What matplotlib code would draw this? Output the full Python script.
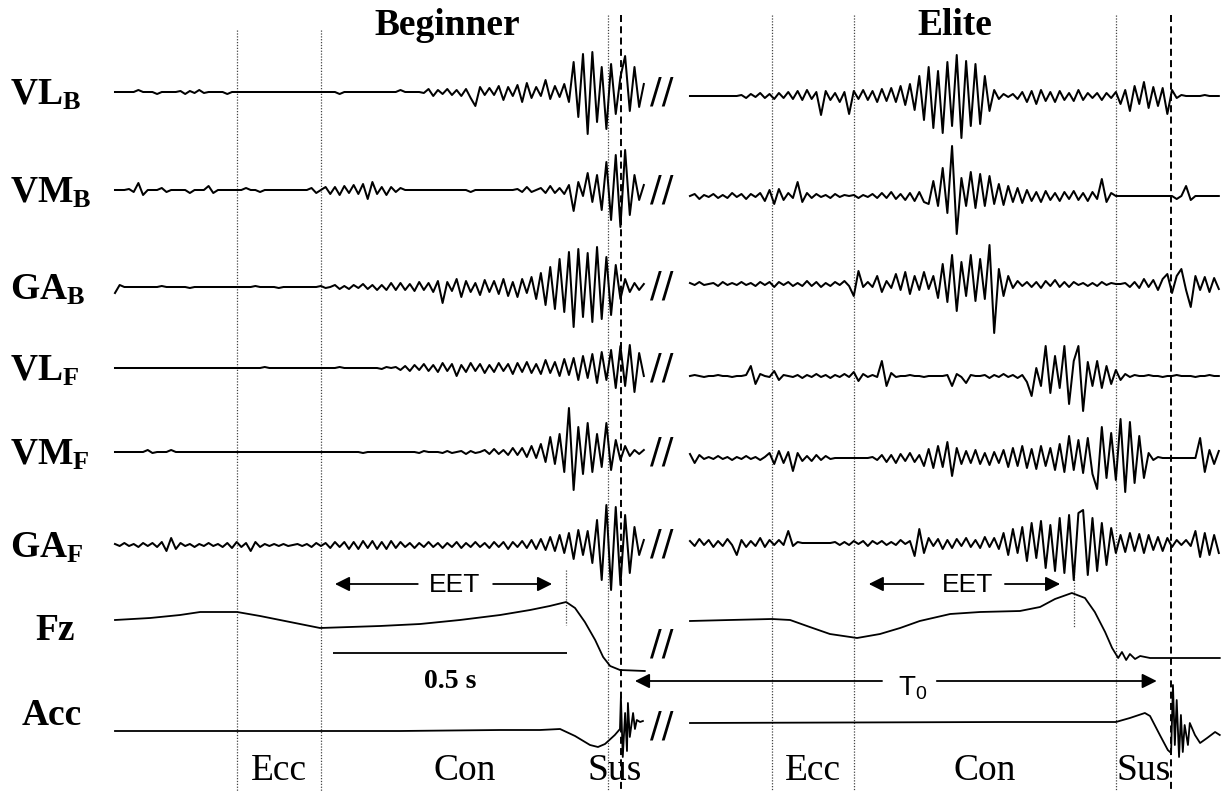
import numpy as np
import matplotlib.pyplot as plt

plt.rcParams['mathtext.fontset'] = 'custom'
plt.rcParams['mathtext.rm'] = 'Liberation Serif'
plt.rcParams['mathtext.bf'] = 'Liberation Serif:bold'
plt.rcParams['mathtext.sf'] = 'Liberation Sans'

# time axis: seconds, both panels share one axis, Elite panel shifted right
DT = 0.01
RIGHT_START = 1.2286
T_MIN, T_MAX = -0.2457, 2.3718

# ---- EMG traces (amplitude, arbitrary units, positive = up) ----
# Beginner
beg_vl_b = [0, 0, 0, 0, 0, 2, 0, 0, 0, -2, 0, 0, 0, 0, 1, -2, 1, -1, 2, -1,
            0, 0, 0, 0, -2, 0, 0, 0, 0, 0, 0, 0, 0, 0, 0, 0, 0, 0, 0, 0,
            0, 0, 0, 0, 0, 0, 0, 0, -2, 0, 0, 0, 0, 0, 0, 0, 0, 0, 0, 0,
            0, 2, 0, 0, 0, 0, -1, 3, -4, 2, -2, 3, -3, 2, -4, 3, -6, -14, 5, -3,
            4, -3, 6, -8, 5, -4, 7, -10, 9, -6, 5, -4, 12, -7, 6, -5, 8, -10, 30, -25,
            38, -42, 40, -30, 25, -37, 28, -22, 15, 36, -19, 25, -15, 8]
beg_vm_b = [0, 0, 0, 1, -2, 7, -5, 0, 0, 0, 2, -2, 0, 0, 0, 0, -3, 0, 0, 0,
            4, -3, 0, 0, 0, 0, 0, 0, 2, 0, 0, -2, 0, 0, 0, 0, 0, 0, 0, 0,
            0, 0, 2, -3, 0, 3, -4, 3, -5, 4, -3, 5, -4, 6, -9, 8, -4, 3, -5, 3,
            -2, 2, 0, 0, 0, 0, 0, 0, 0, 0, 0, 0, 0, 0, 0, 0, -2, 0, 0, 0,
            0, 0, 0, 0, 0, 0, 1, -2, 3, -2, 0, 2, -3, 4, -3, 2, -4, 5, -21, 8,
            -6, 17, -12, 15, -20, 28, -30, 35, -37, 40, -25, 15, -10, 5]
beg_ga_b = [-6, 2, 0, 0, 0, 0, 0, 0, 0, 0, 1, 0, 0, 0, 0, 0, -1, 0, 0, 0,
            0, 0, 0, 0, 0, 0, 0, 0, 0, 0, 1, 0, 0, 0, 0, -1, 0, 0, 0, 0,
            0, 0, 0, 0, 1, -1, 0, 2, -2, 1, -2, 2, -1, 3, -2, 2, -3, 2, -3, 4,
            -3, 4, -3, 3, -4, 5, -3, 4, -5, 6, -16, 5, -4, 8, -10, 6, -5, 4, -8, 7,
            -5, 6, -7, 8, -9, 5, -10, 8, -6, 10, -12, 14, -18, 20, -22, 28, -25, 35, -40, 38,
            -30, 34, -35, 40, -32, 30, -28, 22, -12, 8, -5, 4, -3, 3]
beg_vl_f = [0, 0, 0, 0, 0, 0, 0, 0, 0, 0, 0, 0, 0, 0, 0, 0, 0, 0, 0, 0,
            0, 0, 0, 0, 0, 0, 0, 0, 0, 0, 0, 0, 1, 0, 0, 0, 0, 0, 0, 0,
            0, 0, 0, 0, 0, 0, 0, 0, 1, 0, 0, 0, 0, 0, 0, 0, 0, -1, 1, 0,
            1, -2, 2, -3, 3, -2, 4, -3, 3, -4, 5, -3, 4, -8, 3, -4, 5, -3, 4, -5,
            3, -4, 5, -3, 4, -6, 5, -4, 6, -5, 4, -6, 8, -5, 6, -8, 9, -7, 10, -12,
            12, -10, 14, -15, 16, -12, 18, -20, 22, -18, 23, -24, 15, -8]
beg_vm_f = [0, 0, 0, 0, 0, 0, 0, 2, -1, 0, 0, 0, 2, 0, 0, 0, 0, 0, 0, 0,
            0, 0, 0, 0, 0, 0, 0, 0, 0, 0, 0, 0, 0, 0, 0, 0, 0, 0, 0, 0,
            0, 0, 0, 0, 0, 0, 0, 0, 0, 0, 0, 0, 0, -1, 0, 0, 0, 0, 0, 0,
            0, 0, 0, 0, 0, -1, 1, 0, 0, 0, -1, 1, -1, 0, 1, -2, 1, -1, 0, 2,
            -2, 3, -2, 2, -3, 4, -3, 4, -5, 6, -6, 8, -10, 15, -12, 18, -20, 44, -38, 25,
            -22, 29, -20, 18, -15, 29, -18, 12, -8, 6, -4, 2, -2, 2]
beg_ga_f = [1, -1, 2, -1, 1, -2, 2, -1, 2, -2, 3, -6, 7, -4, 2, -1, 1, -2, 1, -1,
            2, -1, 1, -2, 2, -3, 3, -2, 2, -6, 3, -2, 1, -1, 1, -1, 1, -1, 0, 1,
            -1, 1, -2, 2, -1, 2, -3, 3, -2, 3, -4, 3, -4, 4, -3, 4, -4, 3, -4, 4,
            -3, 3, -2, 2, -3, 2, -2, 3, -2, 2, -3, 2, -2, 3, -3, 2, -2, 3, -2, 2,
            -3, 3, -2, 3, -4, 3, -2, 4, -3, 5, -4, 6, -5, 8, -6, 10, -8, 12, -14, 15,
            -10, 14, -18, 25, -35, 40, -45, 38, -40, 30, -28, 18, -10, 5]
# Elite
eli_vl_b = [0, 0, 0, 0, 0, 0, 0, 0, 0, 0, 0, 1, -2, 2, -1, 3, -2, 2, -3, 3,
            -2, 4, -3, 5, -4, 6, -3, 4, -19, 5, -4, 3, -6, 4, -18, 5, -3, 6, -4, 5,
            -6, 7, -5, 8, -6, 10, -9, 12, -14, 20, -24, 29, -32, 25, -37, 34, -30, 41, -42, 35,
            -30, 32, -28, 20, -15, 6, -3, 2, -1, 2, -3, 4, -6, 5, -8, 6, -5, 4, -6, 5,
            -4, 3, -5, 6, -4, 3, -2, 3, -4, 3, -2, 4, -8, 6, -15, 10, -8, 14, -12, 9,
            -10, 8, -18, 6, -2, 1, 0, 0, 0, 0, 1, 0, 0, 0]
eli_vm_b = [0, 2, -3, 1, -1, 2, -2, 1, -2, 3, -1, 2, -3, 2, -1, 3, -5, 6, -8, 7,
            -4, 3, -2, 14, -6, 3, -2, 2, -1, 1, -2, 2, -1, 1, 0, 1, -2, 1, -1, 2,
            -2, 3, -2, 4, -3, 2, -4, 3, -5, 4, -6, -8, 15, -10, 28, -17, 50, -38, 18, -10,
            24, -12, 22, -10, 20, -8, 12, -9, 10, -6, 8, -7, 6, -5, 4, -6, 5, -4, 3, -5,
            4, -3, 5, -4, 3, -5, 4, -3, 17, -6, 3, 0, 0, 0, 0, 0, 0, 0, 0, 0,
            0, 0, 0, 0, -3, 0, 10, -4, 0, 0, 0, 0, 0, 0]
eli_ga_b = [1, -1, 2, -1, 0, 1, -2, 2, -1, 1, -1, 2, -1, 1, -2, 2, -1, 2, -3, 2,
            -1, 2, -2, 1, -2, 3, -2, 2, -3, 1, -2, 2, -1, 3, -2, -12, 13, -3, 2, -3,
            8, -8, 3, -4, 10, -6, 12, -10, 8, -6, 12, -5, 8, -14, 20, -18, 29, -27, 22, -12,
            29, -17, 25, -15, 39, -49, 15, -12, 8, -4, 3, -2, 2, -3, 2, -4, 3, -2, 4, -3,
            2, -3, 2, -1, 1, -2, 1, -2, 2, -1, 1, 0, 0, 1, -3, 2, -4, 5, -3, 4,
            -6, 5, 10, -9, 8, 15, -6, -23, 8, -6, 7, -8, 6, -5]
eli_vl_f = [0, 1, 0, -1, 0, 0, 1, 0, 0, -1, 0, 0, 1, 10, -8, 2, 0, -1, 5, -4,
            1, 0, -1, 1, -2, 1, -1, 2, -1, 1, -2, 1, -1, 2, -1, 4, -5, 2, -1, 1,
            -1, 15, -10, 3, -1, 0, 0, 1, 0, 0, -1, 0, 0, 0, 0, 1, -10, 2, -1, -7,
            1, 0, 0, 1, -2, 1, -1, 2, -1, 1, -2, 1, -6, -20, 8, -10, 30, -17, 20, -12,
            30, -28, 15, 30, -35, 14, -10, 15, -12, 10, -8, 6, -4, 2, -1, 1, 0, 0, 1, 0,
            0, -1, 0, 0, 1, 0, 0, 0, -1, 0, 0, 1, 0, 0]
eli_vm_f = [4, -5, 3, -1, 1, -1, 2, -1, 1, -2, 1, -1, 2, -1, 1, -2, 1, 5, -6, 7,
            -5, 6, -13, 5, -3, 2, -3, 3, -2, 2, -1, 0, 0, 0, 0, 0, 0, 0, 0, 1,
            -2, 3, -4, 3, -5, 4, -3, 5, -4, 3, -8, 9, -10, 12, -9, 16, -18, 10, -6, 7,
            -5, 8, -6, 5, -7, 6, -5, 8, -9, 10, -8, 12, -10, 9, -11, 12, -8, 10, -12, 14,
            -14, 22, -12, 18, -15, 20, -16, -31, 31, -20, 25, -22, 39, -34, 36, -25, 22, -20, 5, -2,
            1, 0, 0, 0, 0, 0, 0, 0, 0, 20, -14, 8, -6, 7]
eli_ga_f = [2, -3, 4, -2, 3, -4, 2, -3, 4, -2, -12, 3, -4, 2, -3, 5, -4, 3, -2, 3,
            -2, 12, -3, 1, 0, 0, 0, 0, 0, 0, 0, 1, -2, 1, -2, 2, -1, 2, -3, 2,
            -1, 2, -2, 1, -2, 3, -1, 2, -13, 14, -10, 5, -3, 4, -6, 3, -5, 4, -3, 5,
            -4, 3, -5, 6, -4, 5, -6, 10, -12, 14, -10, 16, -18, 20, -15, 22, -25, 18, -28, 25,
            -30, 28, -37, 30, 33, -32, 25, -28, 20, -22, 15, -10, 8, -9, 10, -8, 9, -10, 8, -7,
            6, -8, 5, -4, 3, -2, 3, -3, 12, -14, 10, -12, 8, -10]

# ---- vertical force (Fz) and acceleration (Acc), key samples ----
fz_beg_t = [0, 0.075, 0.139, 0.182, 0.261, 0.310, 0.374, 0.438, 0.502, 0.566, 0.652, 0.737,
            0.823, 0.887, 0.929, 0.964, 0.983, 1.004, 1.026, 1.043, 1.058, 1.079, 1.132]
fz_beg = [20, 22, 25, 28, 28, 24, 18, 12, 13, 14, 16, 20,
          25, 30, 34, 38, 32, 18, 0, -17, -26, -30, -31]
fz_eli_t = [0, 0.085, 0.175, 0.214, 0.256, 0.299, 0.357, 0.406, 0.449, 0.491, 0.556, 0.620, 0.705,
            0.748, 0.780, 0.816, 0.844, 0.865, 0.887, 0.902, 0.915, 0.923, 0.932, 0.940, 0.951,
            0.962, 0.983, 1.132]
fz_eli = [19, 20, 21, 20, 13, 6, 2, 6, 12, 19, 26, 28, 29,
          33, 41, 47, 42, 28, 8, -8, -18, -12, -20, -14, -19,
          -16, -18, -18]
acc_beg_t = [0, 0.182, 0.395, 0.609, 0.823, 0.908, 0.951, 0.983, 1.015, 1.032, 1.047, 1.068,
             1.079, 1.081, 1.085, 1.090, 1.094, 1.096, 1.100, 1.107, 1.111, 1.115, 1.122, 1.128]
acc_beg = [0, 0, 0, 0, 1, 1, 2, -5, -14, -16, -13, -4,
           2, 34, -26, 18, -20, 28, -6, 18, 2, 11, 9, 10]
acc_eli_t = [0, 0.662, 0.910, 0.940, 0.972, 0.983, 1.004, 1.021, 1.028, 1.032, 1.036, 1.040,
             1.045, 1.049, 1.053, 1.057, 1.064, 1.068, 1.079, 1.090, 1.105, 1.122, 1.132]
acc_eli = [0, 1, 1, 5, 10, 7, -12, -27, -30, 38, -22, 23,
           -34, 8, -29, -2, -22, 0, -12, -20, -15, -9, -12]

# phase boundaries (s): Ecc start, Con start, Fz peak, Sus start, take-off
beg_events = [0.261, 0.440, 0.964, 1.053, 1.081]
eli_events = [0.175, 0.350, 0.820, 0.910, 1.028]

row_labels = [r'$\mathbf{VL_B}$', r'$\mathbf{VM_B}$', r'$\mathbf{GA_B}$',
              r'$\mathbf{VL_F}$', r'$\mathbf{VM_F}$', r'$\mathbf{GA_F}$']
beg_emg = [beg_vl_b, beg_vm_b, beg_ga_b, beg_vl_f, beg_vm_f, beg_ga_f]
eli_emg = [eli_vl_b, eli_vm_b, eli_ga_b, eli_vl_f, eli_vm_f, eli_ga_f]

# layout (vertical position of each row, top = 0)
beg_rows = [92, 190, 287, 368, 452, 545]
eli_rows = [96, 196, 284, 376, 458, 543]
FZ_ROW = 640
ACC_ROW_BEG, ACC_ROW_ELI = 731, 723

fig = plt.figure(figsize=(12.25, 7.91), dpi=100)
ax = fig.add_axes([0, 0, 1, 1])
ax.set_xlim(T_MIN, T_MAX)
ax.set_ylim(791, 0)
ax.axis('off')

lw = 1.45
for vals, row in zip(beg_emg, beg_rows):
    t = np.arange(len(vals)) * DT
    ax.plot(t, row - np.array(vals), color='black', lw=lw, zorder=3)
for vals, row in zip(eli_emg, eli_rows):
    t = RIGHT_START + np.arange(len(vals)) * DT
    ax.plot(t, row - np.array(vals), color='black', lw=lw, zorder=3)

ax.plot(fz_beg_t, FZ_ROW - np.array(fz_beg), color='black', lw=1.3, zorder=3)
ax.plot(RIGHT_START + np.array(fz_eli_t), FZ_ROW - np.array(fz_eli), color='black', lw=1.3, zorder=3)
ax.plot(acc_beg_t, ACC_ROW_BEG - np.array(acc_beg), color='black', lw=1.3, zorder=3)
ax.plot(RIGHT_START + np.array(acc_eli_t), ACC_ROW_ELI - np.array(acc_eli), color='black', lw=1.3, zorder=3)

# phase lines
dot = (0, (1, 1.3))
for off, ev, top in [(0, beg_events, 30), (RIGHT_START, eli_events, 15)]:
    ax.vlines([off + ev[0], off + ev[1]], top, 791, colors='#444444', linestyles=[dot], lw=0.9, zorder=1)
    ax.vlines(off + ev[3], 15, 791, colors='#444444', linestyles=[dot], lw=0.9, zorder=1)
    ax.vlines(off + ev[4], 15, 791, colors='black', linestyles=[(0, (3.6, 2.2))], lw=1.4, zorder=1)
ax.vlines(beg_events[2], 570, 625, colors='#444444', linestyles=[dot], lw=0.9)
ax.vlines(RIGHT_START + eli_events[2], 565, 627, colors='#444444', linestyles=[dot], lw=0.9)

# row labels
lab_x = 10 / 1225
ytr = ax.get_yaxis_transform()
for lab, row in zip(row_labels, beg_rows):
    ax.text(lab_x, row + 13, lab, transform=ytr, fontsize=27, va='baseline', ha='left')
ax.text(35 / 1225, 640, 'Fz', transform=ytr, fontsize=27, va='baseline', ha='left',
        family='Liberation Serif', weight='bold')
ax.text(22 / 1225, 725, 'Acc', transform=ytr, fontsize=27, va='baseline', ha='left',
        family='Liberation Serif', weight='bold')

# titles
serif = 'Liberation Serif'
ax.text(0.709, 35, 'Beginner', fontsize=27, weight='bold', family=serif, ha='center', va='baseline')
ax.text(1.795, 35, 'Elite', fontsize=27, weight='bold', family=serif, ha='center', va='baseline')

# phase names
phase_names = ['Ecc', 'Con', 'Sus']
for off, ev in [(0, beg_events), (RIGHT_START, eli_events)]:
    bounds = [ev[0], ev[1], ev[3], ev[4]]
    centers = [(bounds[0] + bounds[1]) / 2, (bounds[1] + bounds[2]) / 2, (bounds[2] + bounds[3]) / 2]
    for name, c in zip(phase_names, centers):
        ax.text(off + c, 780, name, fontsize=27, family=serif, ha='center', va='baseline')

# break marks
for row in beg_rows + [645, 727]:
    ax.text(1.169, row, '//', fontsize=25, family='DejaVu Sans', ha='center', va='center')

# EET arrows
arr = dict(arrowstyle='-|>', color='black', lw=1.3, mutation_scale=22, shrinkA=0, shrinkB=0)
sans = 'Liberation Sans'
ax.annotate('', xy=(0.470, 584), xytext=(0.647, 584), arrowprops=arr)
ax.annotate('', xy=(0.934, 584), xytext=(0.808, 584), arrowprops=arr)
ax.text(0.726, 592, 'EET', fontsize=19, family=sans, ha='center', va='baseline')
ax.annotate('', xy=(RIGHT_START + 0.382, 584), xytext=(RIGHT_START + 0.499, 584), arrowprops=arr)
ax.annotate('', xy=(RIGHT_START + 0.791, 584), xytext=(RIGHT_START + 0.673, 584), arrowprops=arr)
ax.text(RIGHT_START + 0.594, 592, 'EET', fontsize=19, family=sans, ha='center', va='baseline')

# 0.5 s scale bar
ax.hlines(653, 0.466, 0.966, colors='black', lw=1.3)
ax.text(0.716, 688, '0.5 s', fontsize=20, family=serif, weight='bold', ha='center', va='baseline')

# T0 arrows
ax.annotate('', xy=(1.111, 681), xytext=(1.639, 681), arrowprops=arr)
ax.annotate('', xy=(2.226, 681), xytext=(1.756, 681), arrowprops=arr)
ax.text(1.705, 696, r'$\mathsf{T_0}$', fontsize=20, ha='center', va='baseline')

fig.savefig('out.png', dpi=100)
